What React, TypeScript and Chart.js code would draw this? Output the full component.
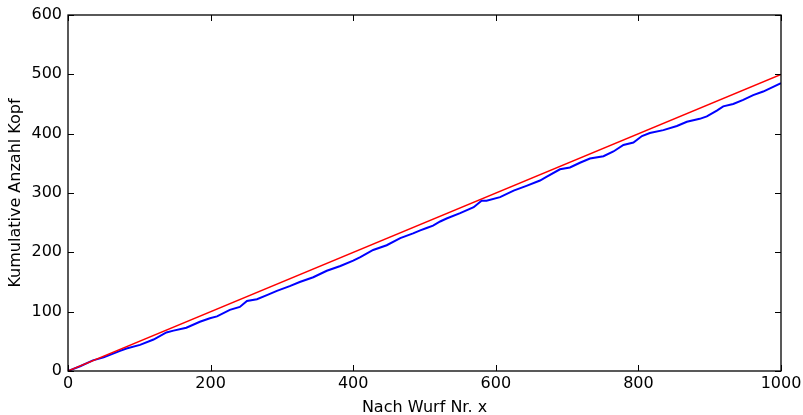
import React, { useEffect, useRef } from "react";
import { Chart, registerables } from "chart.js";

Chart.register(...registerables);

// Cumulative heads count
const wurf = [0, 17, 35, 50, 73, 82, 101, 120, 138, 148, 166, 185, 199, 209, 227, 241, 251, 265, 279, 293, 311, 325, 344, 363, 382, 400, 410, 428, 447, 466, 484, 494, 503, 512, 522, 531, 550, 569, 580, 587, 606, 625, 643, 662, 671, 690, 704, 718, 732, 751, 765, 779, 793, 805, 816, 835, 854, 868, 886, 896, 910, 919, 933, 947, 961, 975, 989, 1000];
const kopf = [0, 8, 18, 23, 34, 38, 44, 53, 65, 68, 73, 83, 89, 92, 103, 108, 118, 121, 128, 135, 143, 150, 158, 169, 177, 186, 192, 204, 212, 224, 232, 237, 241, 245, 252, 257, 266, 276, 287, 287, 293, 304, 312, 321, 327, 340, 343, 351, 358, 362, 370, 381, 385, 396, 401, 406, 413, 420, 425, 429, 439, 446, 450, 457, 465, 471, 479, 485];

// Expected value line endpoints
const erwartetX = [0, 1000];
const erwartetY = [0, 500];

const xTicks = [0, 200, 400, 600, 800, 1000];
const yTicks = [0, 100, 200, 300, 400, 500, 600];

const FONT = "'DejaVu Sans', sans-serif";

const framePlugin = {
  id: "frameTicks",
  afterDatasetsDraw(chart: any) {
    const { ctx, chartArea, scales } = chart;
    const { left, right, top, bottom } = chartArea;
    const len = 6;
    ctx.save();
    ctx.strokeStyle = "#000";
    ctx.lineWidth = 1;
    ctx.beginPath();
    for (const v of xTicks) {
      const px = Math.round(scales.x.getPixelForValue(v)) + 0.5;
      ctx.moveTo(px, bottom);
      ctx.lineTo(px, bottom - len);
      ctx.moveTo(px, top);
      ctx.lineTo(px, top + len);
    }
    for (const v of yTicks) {
      const py = Math.round(scales.y.getPixelForValue(v)) + 0.5;
      ctx.moveTo(left, py);
      ctx.lineTo(left + len, py);
      ctx.moveTo(right, py);
      ctx.lineTo(right - len, py);
    }
    ctx.stroke();
    ctx.lineWidth = 1.3;
    ctx.strokeRect(left, top, right - left, bottom - top);
    ctx.restore();
  },
};

export default function App() {
  const ref = useRef<HTMLCanvasElement | null>(null);

  useEffect(() => {
    document.body.style.margin = "0";
    const canvas = ref.current;
    if (!canvas) return;
    const chart = new Chart(canvas, {
      type: "line",
      data: {
        datasets: [
          {
            label: "Erwartungswert",
            data: erwartetX.map((x, i) => ({ x, y: erwartetY[i] })),
            borderColor: "#ff0000",
            borderWidth: 1.5,
            pointRadius: 0,
            fill: false,
            order: 0,
          },
          {
            label: "Kopf",
            data: wurf.map((x, i) => ({ x, y: kopf[i] })),
            borderColor: "#0000ff",
            borderWidth: 2,
            pointRadius: 0,
            fill: false,
            tension: 0,
            order: 1,
          },
        ],
      },
      plugins: [framePlugin],
      options: {
        animation: false,
        responsive: false,
        maintainAspectRatio: false,
        layout: { padding: { top: 15, right: 22, left: 0, bottom: 0 } },
        plugins: { legend: { display: false }, tooltip: { enabled: false } },
        scales: {
          x: {
            type: "linear",
            min: 0,
            max: 1000,
            afterBuildTicks: (s: any) => {
              s.ticks = xTicks.map((v) => ({ value: v }));
            },
            afterFit: (s: any) => {
              s.height = 44;
              s.paddingRight = 0;
              s.paddingLeft = 0;
            },
            grid: { display: false, drawTicks: false },
            border: { display: false },
            ticks: {
              color: "#000",
              padding: 3,
              maxRotation: 0,
              font: { family: FONT, size: 16 },
              callback: (v: any) => String(v),
            },
            title: {
              display: true,
              text: "Nach Wurf Nr. x",
              color: "#000",
              font: { family: FONT, size: 16, lineHeight: 1 },
              padding: { top: 0, bottom: -1 },
            },
          },
          y: {
            type: "linear",
            min: 0,
            max: 600,
            afterBuildTicks: (s: any) => {
              s.ticks = yTicks.map((v) => ({ value: v }));
            },
            afterFit: (s: any) => {
              s.width = 68;
              s.paddingTop = 0;
              s.paddingBottom = 0;
            },
            grid: { display: false, drawTicks: false },
            border: { display: false },
            ticks: {
              color: "#000",
              padding: 6,
              font: { family: FONT, size: 16 },
              callback: (v: any) => String(v),
            },
            title: {
              display: true,
              text: "Kumulative Anzahl Kopf",
              color: "#000",
              font: { family: FONT, size: 16, lineHeight: 1 },
              padding: { top: 8, bottom: 0 },
            },
          },
        },
      },
    });
    return () => chart.destroy();
  }, []);

  return (
    <div style={{ width: 803, height: 415, background: "#fff" }}>
      <canvas ref={ref} width={803} height={415} style={{ display: "block" }} />
    </div>
  );
}
